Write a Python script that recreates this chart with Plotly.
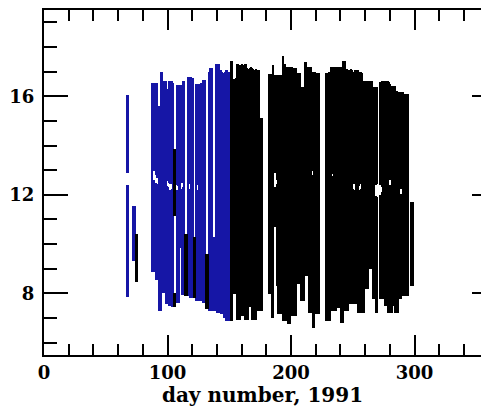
import plotly.graph_objects as go

# ---------------- data ----------------
# blue observing runs: day, top (h), bottom (h)
blue_days = [67, 68, 72, 73,
             87, 88, 89, 90, 91, 92, 93, 94, 95, 96, 97, 98, 99, 100, 101, 102, 103, 104,
             107, 108, 109, 110, 111, 112, 113,
             116, 117, 118, 119, 120,
             123, 124, 125, 126, 127, 128, 129, 130,
             133, 134, 135, 136, 137, 138, 139, 140, 141, 142, 143, 144, 145, 146, 147, 148, 149, 150]
blue_top = [16.05, 16.05, 11.55, 11.55,
            16.55, 16.55, 16.55, 16.55, 16.55, 15.6, 15.6, 17.0, 17.0, 16.6, 16.6, 16.6, 16.3, 16.3, 16.6, 16.6, 16.6, 16.55,
            16.45, 16.45, 16.45, 16.45, 16.45, 16.6, 16.6,
            16.8, 16.8, 16.8, 16.8, 16.75,
            16.5, 16.5, 16.5, 16.5, 16.55, 16.65, 16.65, 16.65,
            17.0, 17.15, 17.15, 17.15, 10.3, 10.3, 17.3, 17.3, 17.3, 17.05, 17.05, 17.0, 16.95, 17.0, 17.05, 17.05, 17.0, 17.0]
blue_bottom = [7.85, 7.85, 9.3, 9.3,
               8.85, 8.85, 8.85, 8.55, 8.55, 8.55, 7.3, 7.3, 8.0, 8.0, 8.0, 7.55, 7.55, 9.2, 7.5, 7.5, 7.45, 7.45,
               7.6, 7.6, 7.6, 9.85, 7.95, 7.95, 7.95,
               7.9, 7.9, 7.8, 7.8, 7.8,
               7.7, 7.7, 7.75, 7.7, 7.7, 7.6, 7.6, 7.6,
               7.3, 7.3, 7.35, 7.3, 7.3, 7.3, 7.3, 7.2, 7.2, 7.2, 7.15, 7.15, 7.0, 7.0, 6.9, 6.9, 6.9, 6.9]

# black observing runs: day, top (h), bottom (h)
black_days = [74, 75, 105, 105, 106, 106, 114, 115, 121, 122, 131, 132,
              151, 152, 153, 154, 155, 156, 157, 158, 159, 160, 161, 162, 163,
              164, 165, 166, 167, 168, 169, 170, 171, 172, 173, 174, 175, 176,
              182, 183, 184, 185, 186, 187, 188, 189, 190, 191, 192, 193, 194, 195,
              196, 197, 198, 199, 200, 201, 202, 203, 204, 205, 206, 207, 208, 209,
              210, 211, 212, 213, 214, 215, 216, 217, 218, 219, 220, 221, 222,
              228, 229, 230, 231, 232, 233, 234, 235, 236, 237, 238, 239, 240, 241,
              242, 243, 244, 245, 246, 247, 248, 249, 250, 251, 252, 253, 254, 255,
              256, 257, 258, 259, 260, 261, 262, 263, 264, 265, 266, 267, 268, 269,
              272, 273, 274, 275, 276, 277, 278, 279, 280, 281, 282, 283, 284, 285,
              286, 287, 288, 289, 290, 291, 292, 293, 294,
              297, 298]
black_top = [10.4, 10.4, 13.85, 8.0, 13.85, 8.0, 10.4, 10.4, 10.3, 10.3, 9.6, 9.6,
             17.45, 17.45, 16.7, 16.7, 16.75, 17.3, 17.3, 17.25, 17.25, 17.3, 17.25, 17.3, 17.3,
             17.15, 17.1, 17.15, 17.2, 17.15, 17.1, 17.05, 17.1, 17.05, 17.05, 17.05, 15.1, 15.1,
             16.9, 16.9, 16.9, 17.25, 16.85, 16.85, 16.85, 16.85, 16.85, 16.85, 16.85, 17.65, 17.3, 17.3,
             17.2, 17.2, 17.2, 17.2, 17.2, 17.13, 17.13, 17.13, 17.13, 16.94, 16.94, 16.94, 16.36, 16.36,
             16.36, 17.4, 17.4, 17.17, 17.17, 17.17, 17.17, 17.0, 17.0, 17.0, 16.96, 16.96, 16.96,
             16.96, 16.96, 17.0, 17.0, 17.17, 17.17, 17.2, 17.17, 17.15, 17.17, 17.2, 17.17, 17.17, 17.2,
             17.44, 17.44, 17.05, 17.1, 17.05, 17.05, 17.1, 17.05, 17.0, 17.05, 17.05, 17.0, 17.05, 17.0,
             17.0, 16.95, 16.6, 16.6, 16.6, 16.6, 16.6, 16.6, 16.6, 16.6, 16.36, 16.36, 16.36, 16.36,
             16.56, 16.6, 16.63, 16.63, 16.63, 16.6, 16.6, 16.56, 16.5, 16.4, 16.4, 16.4, 16.4, 16.2,
             16.16, 16.16, 16.16, 16.16, 16.16, 16.1, 16.1, 16.1, 16.1,
             11.7, 11.7]
black_bottom = [8.45, 8.45, 11.15, 7.45, 11.15, 7.45, 7.9, 7.9, 7.8, 7.8, 7.35, 7.35,
                6.87, 6.87, 7.96, 7.96, 7.96, 6.94, 6.94, 6.94, 7.1, 7.1, 7.1, 6.94, 6.94,
                6.94, 6.94, 7.43, 7.43, 6.94, 6.94, 6.94, 6.94, 7.28, 7.28, 7.28, 7.28, 7.28,
                7.96, 7.96, 7.0, 7.0, 10.7, 10.7, 8.3, 7.15, 7.15, 7.15, 7.15, 6.87, 6.87, 6.87,
                6.87, 6.74, 6.74, 6.74, 7.08, 7.08, 7.08, 7.08, 7.08, 8.37, 8.37, 8.37, 7.69, 7.69,
                7.69, 8.7, 8.7, 8.7, 7.21, 7.21, 7.21, 6.6, 6.6, 7.15, 7.15, 7.15, 7.15,
                6.87, 6.87, 6.87, 6.87, 7.28, 7.28, 7.28, 7.28, 7.28, 7.42, 7.42, 7.42, 6.8, 6.8,
                6.8, 7.28, 7.28, 7.28, 7.28, 7.55, 7.55, 7.55, 7.55, 7.55, 7.55, 7.55, 7.21, 7.21,
                7.2, 7.2, 7.2, 7.2, 8.16, 8.16, 8.16, 8.98, 8.98, 8.98, 7.76, 7.76, 7.2, 7.2,
                7.76, 7.76, 7.76, 7.76, 7.5, 7.5, 7.2, 7.2, 7.2, 7.2, 7.5, 7.5, 7.2, 7.2,
                7.2, 7.76, 7.76, 7.76, 7.9, 7.9, 7.9, 7.9, 7.9,
                8.3, 8.3]

# short interruptions around midday: day, from (h), to (h)
gap_days = [67, 68, 88, 89, 90, 91, 92, 99, 100, 101, 102, 103, 107, 108, 111, 112, 117, 118, 124,
            186, 187, 188, 217, 233, 237, 248, 250, 251, 253, 255, 256, 261,
            268, 269, 272, 273, 279, 280, 288, 289]
gap_lo = [12.4, 12.4, 12.6, 12.6, 12.5, 12.4, 12.45, 12.35, 12.3, 12.15, 12.2, 12.25, 12.2, 12.15, 12.25, 12.3, 12.25, 12.2, 12.2,
          12.3, 12.3, 12.45, 12.8, 12.75, 12.75, 12.6, 12.25, 12.2, 12.25, 12.2, 12.25, 10.8,
          11.95, 11.9, 12.0, 12.1, 12.2, 12.4, 12.05, 12.05]
gap_hi = [12.9, 12.9, 12.95, 12.95, 12.8, 12.7, 12.7, 12.6, 12.55, 12.5, 12.45, 12.45, 12.4, 12.35, 12.5, 12.5, 12.45, 12.45, 12.4,
          12.9, 12.9, 12.6, 12.95, 12.85, 12.85, 12.85, 12.45, 12.45, 12.4, 12.35, 12.45, 11.1,
          12.4, 12.45, 12.4, 12.3, 12.75, 12.6, 12.25, 12.25]

x_tickvals = [0, 100, 200, 300]
x_ticktext = ["0", "100", "200", "300"]
y_tickvals = [8, 12, 16]
y_ticktext = ["8", "12", "16"]
x_title = "day number, 1991"

BLUE = "#1616a6"
BLACK = "#000000"

# ---------------- build segments ----------------
gaps = {}
for d, lo, hi in zip(gap_days, gap_lo, gap_hi):
    gaps.setdefault(d, []).append((lo, hi))


def segments(days, tops, bottoms):
    xs, bases, lens = [], [], []
    for d, t, b in zip(days, tops, bottoms):
        pieces = [(b, t)]
        for lo, hi in gaps.get(d, []):
            new = []
            for p0, p1 in pieces:
                if lo >= p1 or hi <= p0:
                    new.append((p0, p1))
                    continue
                if lo > p0:
                    new.append((p0, lo))
                if hi < p1:
                    new.append((hi, p1))
            pieces = new
        for p0, p1 in pieces:
            xs.append(d)
            bases.append(p0)
            lens.append(p1 - p0)
    return xs, bases, lens


fig = go.Figure()
for days, tops, bottoms, col in [(blue_days, blue_top, blue_bottom, BLUE),
                                 (black_days, black_top, black_bottom, BLACK)]:
    xs, bases, lens = segments(days, tops, bottoms)
    fig.add_trace(go.Bar(x=xs, y=lens, base=bases, width=1, offset=0,
                         marker=dict(color=col, line=dict(width=0)),
                         hoverinfo="skip", showlegend=False))

# carrier for the right-hand tick marks
fig.add_trace(go.Scatter(x=[None], y=[None], yaxis="y2", mode="markers",
                         showlegend=False, hoverinfo="skip"))

fig.update_layout(
    width=481, height=410,
    margin=dict(l=44, r=0, t=10, b=55, autoexpand=False),
    paper_bgcolor="white", plot_bgcolor="white",
    barmode="overlay", bargap=0, showlegend=False,
    font=dict(family="DejaVu Serif", size=18, color="black", weight="bold"),
    xaxis=dict(range=[0, 353.8], tickmode="array", tickvals=x_tickvals, ticktext=x_ticktext,
               ticks="inside", ticklen=20, tickwidth=2, tickcolor="black",
               showline=True, linewidth=2, linecolor="black", mirror="ticks",
               showgrid=False, zeroline=False, automargin=False,
               minor=dict(dtick=20, tick0=0, ticks="inside", ticklen=11, tickwidth=2,
                          tickcolor="black", showgrid=False),
               title=dict(text=x_title, font=dict(size=20), standoff=5)),
    yaxis=dict(range=[5.5, 19.5], tickmode="array", tickvals=y_tickvals, ticktext=y_ticktext,
               ticks="inside", ticklen=24, tickwidth=2, tickcolor="black",
               showline=True, linewidth=2, linecolor="black", mirror=False,
               showgrid=False, zeroline=False, ticklabelstandoff=4, automargin=False,
               minor=dict(dtick=1, tick0=0, ticks="inside", ticklen=13, tickwidth=2,
                          tickcolor="black", showgrid=False)),
    yaxis2=dict(range=[5.5, 19.5], overlaying="y", side="right", tickmode="array",
                tickvals=y_tickvals, ticks="inside", ticklen=9, tickwidth=2, tickcolor="black",
                showticklabels=False, showline=False, showgrid=False, zeroline=False,
                automargin=False),
)

fig.write_html("out.html", config={"displayModeBar": False},
               post_script="document.body.style.margin='0';document.body.style.overflow='hidden';")
